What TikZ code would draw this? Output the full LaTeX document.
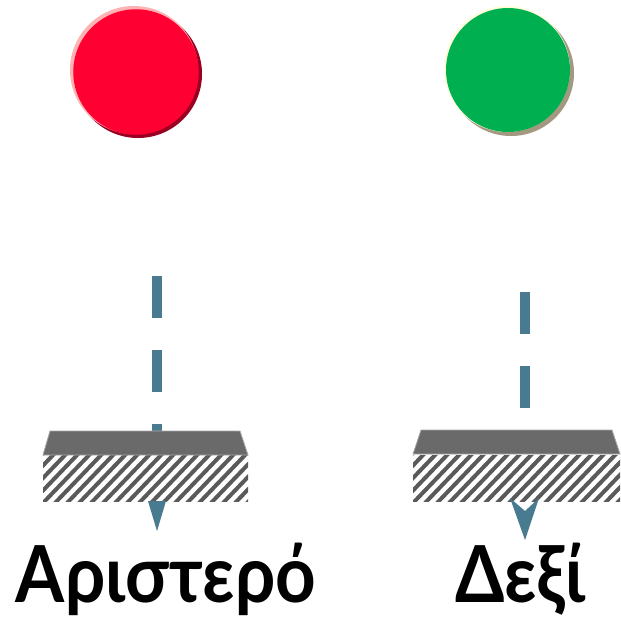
\documentclass[tikz,border=0pt]{standalone}
\usepackage{fontspec}
\newfontfamily\capfont[FakeStretch=0.9]{Lato}
\definecolor{lampred}{HTML}{FF0033}
\definecolor{lampredrim}{HTML}{9A0022}
\definecolor{lampgreen}{HTML}{00B050}
\definecolor{lampgreenrim}{HTML}{A39880}
\definecolor{beam}{HTML}{487B8F}
\definecolor{slabtop}{HTML}{6A6A6A}
\definecolor{slabhatch}{HTML}{5A5A5A}
\tikzset{
  beamline/.style={draw=beam, line width=7.5pt, dash pattern=on 31.5pt off 24pt},
  slabface/.style={fill=slabtop, draw=gray!70, line width=0.6pt},
  label/.style={font=\capfont\bfseries\fontsize{59}{66}\selectfont, anchor=base, inner sep=0pt},
}
\newcommand{\hatchslab}[2]{%
  % #1 = left x, #2 = right x of the slab
  \fill[white] (#1,455) rectangle (#2,501);
  \begin{scope}
    \clip (#1,455) rectangle (#2,501);
    \foreach \s in {-60,-48,...,280} {
      \draw[slabhatch, line width=3pt] (#1+\s,503) -- (#1+\s+48,453);
    }
  \end{scope}
}
\begin{document}
\begin{tikzpicture}[x=0.75pt,y=-0.75pt]
\useasboundingbox (0,0) rectangle (621,619);
\fill[white] (0,0) rectangle (621,619);

% lamps
\fill[lampredrim] (138,74) circle (64);
\fill[red!30!white] (134,70) circle (64);
\node[circle, fill=lampred, minimum size=125.5*0.75pt, inner sep=0pt] (redlamp) at (136,72) {};
\fill[lampgreenrim] (511,73) circle (63);
\fill[yellow!15!white] (507,69) circle (63);
\node[circle, fill=lampgreen, minimum size=124*0.75pt, inner sep=0pt] (greenlamp) at (508,70) {};

% beams
\draw[beamline] (157,276) -- (157,432);
\draw[beamline] (525,292) -- (525,430);

% left slab
\hatchslab{43}{248}
\path[slabface] (50,431) -- (240,431) -- (248,455) -- (43,455) -- cycle;
\fill[beam] (148,501) -- (166,501) -- (157,531) -- cycle;

% right slab
\hatchslab{413}{620}
\path[slabface] (421,430) -- (612,430) -- (620,454) -- (413,454) -- cycle;
\fill[beam] (510,498) -- (525,511) -- (539,498) -- (525,540) -- cycle;

% captions
\node[label] (leftcap) at (166,602) {Αριστερό};
\node[label] (rightcap) at (520,602) {Δεξί};
\end{tikzpicture}
\end{document}
